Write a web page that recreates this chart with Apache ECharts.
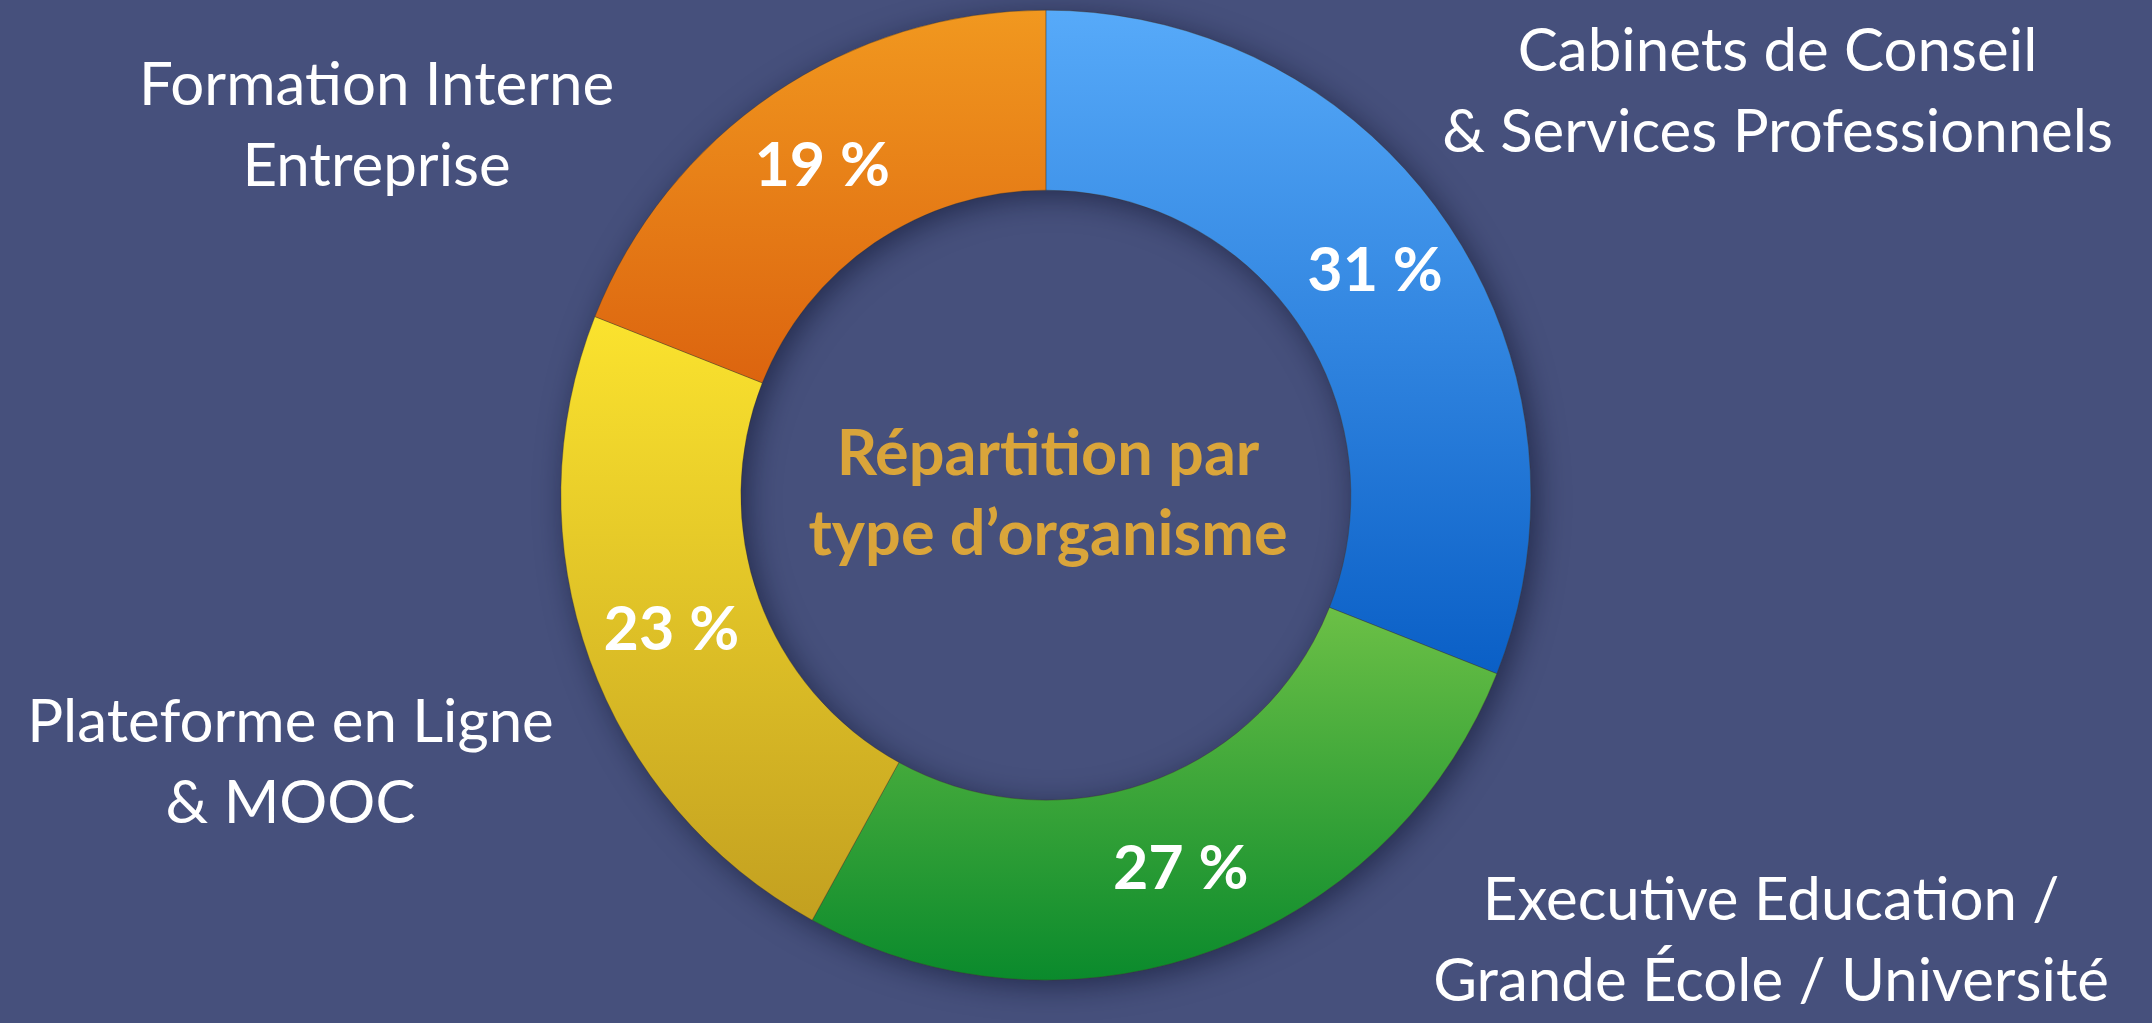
<!DOCTYPE html>
<html lang="fr">
<head>
    <meta charset="utf-8">
    <title>Répartition par type d'organisme</title>
    <script src="https://cdn.jsdelivr.net/npm/echarts@6.0.0/dist/echarts.min.js"></script>
    <style>
        html, body { margin: 0; padding: 0; background: #46507c; }
    </style>
</head>
<body>

<div id="main" style="width: 2152px;height:1023px;"></div>

<script type="text/javascript">

    // données
    var categories = [
        'Cabinets de Conseil\n& Services Professionnels',
        'Executive Education /\nGrande École / Université',
        'Plateforme en Ligne\n& MOOC',
        'Formation Interne\nEntreprise'
    ];
    var values = [31, 27, 23, 19];
    var centerTitle = 'Répartition par\ntype d\u2019organisme';

    // dégradés verticaux [haut, bas]
    var gradients = [
        ['#57aaf9', '#0a5fc6'],
        ['#6cc046', '#0a8a2c'],
        ['#fbe32e', '#c3a020'],
        ['#f1981f', '#dc640f']
    ];
    // position des libellés extérieurs (fraction de la largeur / hauteur)
    var labelSpots = [[0.826, 0.09], [0.823, 0.92], [0.135, 0.746], [0.175, 0.123]];

    var font = 'Lato, "Open Sans", sans-serif';
    var center = ['48.6%', '48.4%'];
    var radius = [305, 485];

    var myChart = echarts.init(document.getElementById('main'));

    var pieData = [];
    for (var i = 0; i < categories.length; i++) {
        pieData.push({
            name: categories[i],
            value: values[i],
            itemStyle: {
                color: new echarts.graphic.LinearGradient(0, 0, 0, 1, [
                    {offset: 0, color: gradients[i][0]},
                    {offset: 1, color: gradients[i][1]}
                ])
            }
        });
    }

    var W = myChart.getWidth(), H = myChart.getHeight();

    option = {
        backgroundColor: '#46507c',
        animation: false,
        graphic: [{
            type: 'text',
            x: W * 0.487,
            y: H * 0.484,
            z: 100,
            style: {
                text: centerTitle,
                fill: '#daa53a',
                font: 'bold 63px ' + font,
                lineHeight: 80,
                align: 'center',
                verticalAlign: 'middle'
            }
        }],
        series: [
            {
                // anneau d'ombre
                type: 'pie',
                silent: true,
                center: center,
                radius: radius,
                label: {show: false},
                labelLine: {show: false},
                itemStyle: {
                    color: '#46507c',
                    shadowBlur: 30,
                    shadowOffsetX: 6,
                    shadowOffsetY: 6,
                    shadowColor: 'rgba(10,14,40,0.55)'
                },
                data: [{value: 1, name: ''}]
            },
            {
                type: 'pie',
                silent: true,
                center: center,
                radius: radius,
                startAngle: 90,
                label: {
                    show: true,
                    position: 'inside',
                    formatter: '{c} %',
                    color: '#ffffff',
                    fontFamily: font,
                    fontWeight: 'bold',
                    fontSize: 61
                },
                labelLine: {show: false},
                itemStyle: {
                    borderColor: 'rgba(60,50,30,0.35)',
                    borderWidth: 1
                },
                data: pieData
            },
            {
                // libellés des catégories
                type: 'pie',
                silent: true,
                center: center,
                radius: radius,
                startAngle: 90,
                itemStyle: {color: 'rgba(0,0,0,0)'},
                label: {
                    show: true,
                    position: 'outside',
                    formatter: '{b}',
                    color: '#ffffff',
                    fontFamily: font,
                    fontSize: 60,
                    lineHeight: 81,
                    align: 'center',
                    overflow: 'none'
                },
                labelLine: {show: false},
                labelLayout: function (params) {
                    var p = labelSpots[params.dataIndex];
                    return {
                        x: W * p[0],
                        y: H * p[1],
                        align: 'center',
                        verticalAlign: 'middle'
                    };
                },
                data: categories.map(function (c, i) {
                    return {name: c, value: values[i]};
                })
            }
        ]
    };

    myChart.setOption(option);

</script>

</body>
</html>
